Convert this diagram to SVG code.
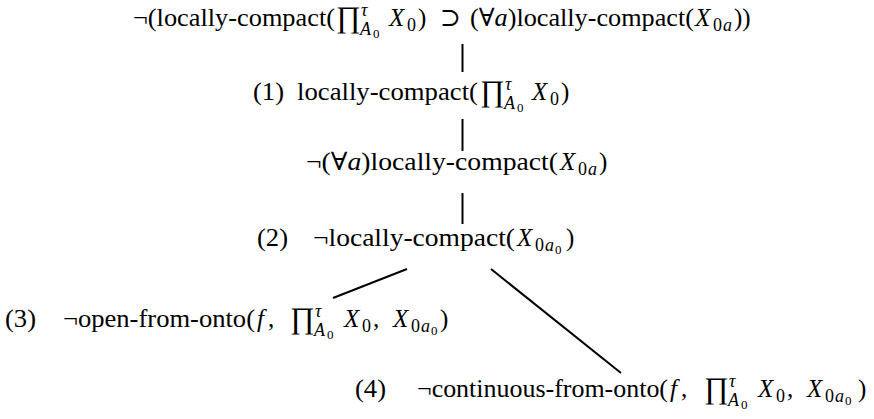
<svg xmlns="http://www.w3.org/2000/svg" width="874" height="419" viewBox="0 0 874 419" font-family="Liberation Serif, DejaVu Serif, serif">
<style>
text{font-family:"Liberation Serif","DejaVu Serif",serif;font-size:25px;fill:#000}
.i{font-style:italic}
.s{font-size:18px}
.ss{font-size:13px}
.p{font-size:30px}
.c line{stroke:#000;stroke-width:2}
</style>
<rect width="874" height="419" fill="#fff"/>
<g class="c" id="connectors">
<line x1="462.5" y1="44" x2="462.5" y2="72"/>
<line x1="462.5" y1="119" x2="462.5" y2="151"/>
<line x1="462.5" y1="193" x2="462.5" y2="224"/>
<line x1="407" y1="269" x2="333" y2="298"/>
<line x1="491" y1="269" x2="621" y2="373"/>
</g>
<g id="n0">
<text x="133" y="26" textLength="202" lengthAdjust="spacingAndGlyphs">¬(locally-compact(</text>
<text class="p" x="336" y="27">∏</text>
<text class="s i" x="361" y="16">τ</text>
<text class="s i" x="360" y="35">A</text>
<text class="ss" x="373" y="38">0</text>
<text class="i" x="389" y="26">X</text>
<text class="s" x="407" y="31">0</text>
<text x="418" y="26">)</text>
<text x="440" y="26">⊃</text>
<text x="470" y="26" textLength="224" lengthAdjust="spacingAndGlyphs">(∀<tspan class="i">a</tspan>)locally-compact(</text>
<text class="i" x="695" y="26">X</text>
<text class="s" x="713" y="31">0</text>
<text class="s i" x="723" y="31">a</text>
<text x="734" y="26">))</text>
</g>
<g id="n1">
<text x="253" y="100" textLength="31" lengthAdjust="spacingAndGlyphs">(1)</text>
<text x="297" y="100" textLength="181" lengthAdjust="spacingAndGlyphs">locally-compact(</text>
<text class="p" x="480" y="101">∏</text>
<text class="s i" x="505" y="90">τ</text>
<text class="s i" x="504" y="109">A</text>
<text class="ss" x="517" y="112">0</text>
<text class="i" x="532" y="100">X</text>
<text class="s" x="550" y="105">0</text>
<text x="561" y="100">)</text>
</g>
<g id="n2">
<text x="306" y="170" textLength="252" lengthAdjust="spacingAndGlyphs">¬(∀<tspan class="i">a</tspan>)locally-compact(</text>
<text class="i" x="560" y="170">X</text>
<text class="s" x="578" y="175">0</text>
<text class="s i" x="588" y="175">a</text>
<text x="599" y="170">)</text>
</g>
<g id="n3">
<text x="257" y="246" textLength="31" lengthAdjust="spacingAndGlyphs">(2)</text>
<text x="313" y="246" textLength="202" lengthAdjust="spacingAndGlyphs">¬locally-compact(</text>
<text class="i" x="517" y="246">X</text>
<text class="s" x="535" y="251">0</text>
<text class="s i" x="545" y="251">a</text>
<text class="ss" x="555" y="254">0</text>
<text x="566" y="246">)</text>
</g>
<g id="n4">
<text x="5" y="327" textLength="31" lengthAdjust="spacingAndGlyphs">(3)</text>
<text x="63" y="327" textLength="192" lengthAdjust="spacingAndGlyphs">¬open-from-onto(</text>
<text class="i" x="257" y="327">f</text>
<text x="268" y="327">,</text>
<text class="p" x="290" y="328">∏</text>
<text class="s i" x="315" y="317">τ</text>
<text class="s i" x="314" y="336">A</text>
<text class="ss" x="327" y="339">0</text>
<text class="i" x="344" y="327">X</text>
<text class="s" x="362" y="332">0</text>
<text x="373" y="327">,</text>
<text class="i" x="393" y="327">X</text>
<text class="s" x="411" y="332">0</text>
<text class="s i" x="421" y="332">a</text>
<text class="ss" x="431" y="335">0</text>
<text x="440" y="327">)</text>
</g>
<g id="n5">
<text x="355" y="397" textLength="31" lengthAdjust="spacingAndGlyphs">(4)</text>
<text x="417" y="397" textLength="251" lengthAdjust="spacingAndGlyphs">¬continuous-from-onto(</text>
<text class="i" x="670" y="397">f</text>
<text x="681" y="397">,</text>
<text class="p" x="704" y="398">∏</text>
<text class="s i" x="729" y="387">τ</text>
<text class="s i" x="728" y="406">A</text>
<text class="ss" x="741" y="409">0</text>
<text class="i" x="758" y="397">X</text>
<text class="s" x="776" y="402">0</text>
<text x="787" y="397">,</text>
<text class="i" x="807" y="397">X</text>
<text class="s" x="825" y="402">0</text>
<text class="s i" x="835" y="402">a</text>
<text class="ss" x="845" y="405">0</text>
<text x="858" y="397">)</text>
</g>
</svg>
